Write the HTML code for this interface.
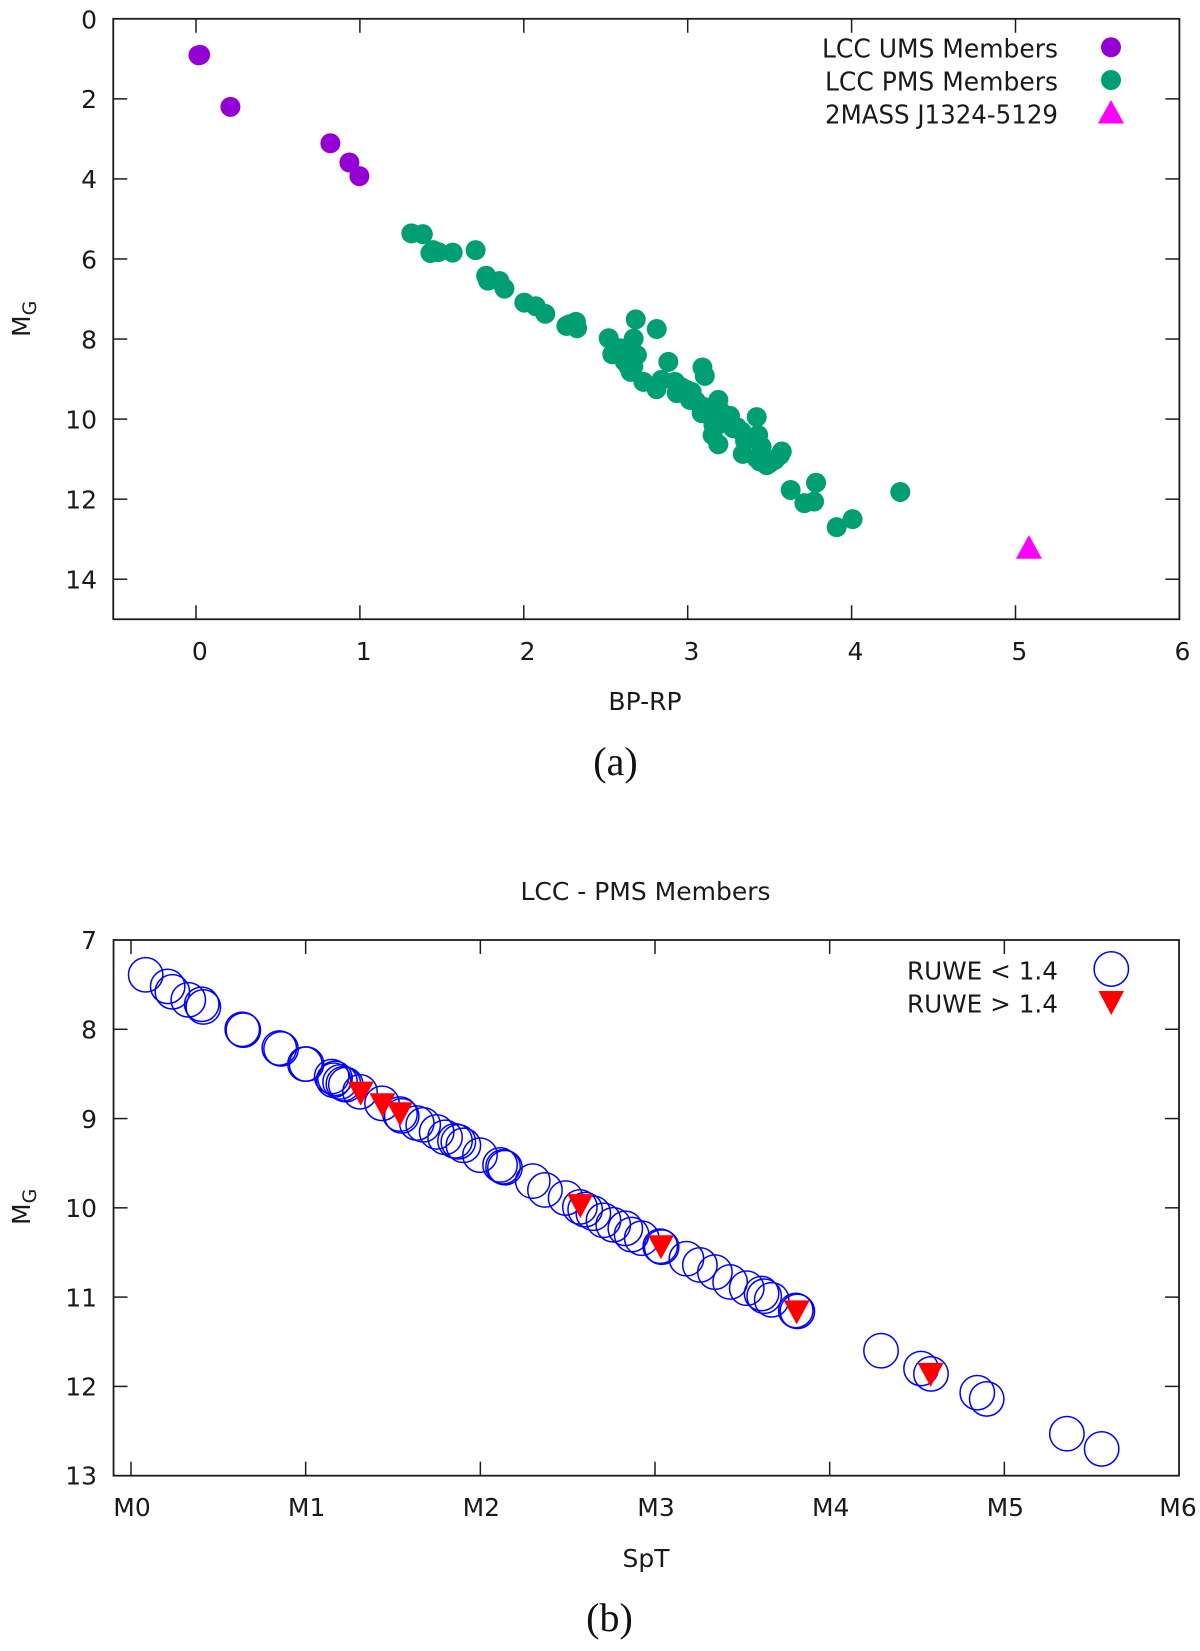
<!DOCTYPE html>
<html lang="en">
<head>
<meta charset="utf-8">
<title>LCC colour-magnitude diagrams</title>
<style>
html,body{margin:0;padding:0;background:#fff;}
svg{display:block;}
text{font-family:"DejaVu Sans","Liberation Sans",sans-serif;font-size:25px;fill:#1a1a1a;}
.cap{font-family:"Liberation Serif",serif;font-size:40px;fill:#111;}
.leg-a{font-size:26px;}
</style>
</head>
<body>
<svg id="figure" xmlns="http://www.w3.org/2000/svg" width="1200" height="1651" viewBox="0 0 1200 1651">
  <rect x="0" y="0" width="1200" height="1651" fill="#fff"/>
  <g id="chart-a"></g>
  <g id="chart-b"></g>

  <text transform="translate(30,337) rotate(-90)">M<tspan font-size="19" dy="6">G</tspan></text>
  <text x="645" y="710" text-anchor="middle">BP-RP</text>
  <text class="cap" x="615.5" y="775" text-anchor="middle">(a)</text>

  <text x="645.5" y="900" text-anchor="middle">LCC - PMS Members</text>
  <text transform="translate(30,1225) rotate(-90)">M<tspan font-size="19" dy="6">G</tspan></text>
  <text x="646" y="1567" text-anchor="middle">SpT</text>
  <text class="cap" x="609.5" y="1631" text-anchor="middle">(b)</text>

  <g>
    <text class="leg-a" x="1058" y="57.5" text-anchor="end" textLength="236" lengthAdjust="spacingAndGlyphs">LCC UMS Members</text>
    <circle cx="1111" cy="47.3" r="10" fill="#9400d3"/>
    <text class="leg-a" x="1058" y="90.5" text-anchor="end" textLength="233" lengthAdjust="spacingAndGlyphs">LCC PMS Members</text>
    <circle cx="1111" cy="80" r="10" fill="#009e73"/>
    <text class="leg-a" x="1058" y="123.5" text-anchor="end" textLength="233" lengthAdjust="spacingAndGlyphs">2MASS J1324-5129</text>
    <polygon points="1111,100 1124,123.5 1098,123.5" fill="#ff00ff"/>
  </g>
  <g>
    <text x="1058" y="979.5" text-anchor="end" textLength="151" lengthAdjust="spacingAndGlyphs">RUWE &lt; 1.4</text>
    <circle cx="1111.3" cy="969" r="17.2" fill="none" stroke="#0000ff" stroke-width="1.5"/>
    <text x="1058" y="1012.5" text-anchor="end" textLength="151" lengthAdjust="spacingAndGlyphs">RUWE &gt; 1.4</text>
    <polygon points="1098.5,991 1124,991 1111.3,1015" fill="#ff0000"/>
  </g>
</svg>
<script>
// Chart (a) tick labels
const aXTicks = [0, 1, 2, 3, 4, 5, 6];
const aYTicks = [0, 2, 4, 6, 8, 10, 12, 14];
// Chart (a) series
const umsColor = [0.015, 0.025, 0.21, 0.82, 0.936, 0.997];
const umsMag = [0.91, 0.90, 2.20, 3.11, 3.59, 3.93];
const pmsColor = [1.314, 1.384, 1.43, 1.447, 1.478, 1.566, 1.706, 1.77, 1.781, 1.851, 1.882, 2.003, 2.073, 2.131, 2.26, 2.28, 2.318, 2.325,
  2.683, 2.811, 2.67, 2.518, 2.54, 2.587, 2.658, 2.617, 2.668, 2.652, 2.73, 2.81, 2.84, 2.882, 2.922, 2.933, 2.994, 3.024, 3.014,
  3.09, 3.104, 3.187, 3.095, 3.085, 3.157, 3.258, 3.217, 3.157, 3.152, 3.187, 3.278, 3.329, 3.421, 3.43, 3.37, 3.451, 3.336, 3.421,
  3.441, 3.482, 3.533, 3.574, 3.563, 3.628, 3.783, 3.712, 3.771, 3.909, 4.006, 4.297,
  2.60, 2.64, 2.96, 3.05, 3.12, 3.20, 3.25, 3.15, 3.30, 3.35, 3.50, 2.69];
const pmsMag = [5.36, 5.38, 5.85, 5.78, 5.83, 5.84, 5.78, 6.42, 6.54, 6.55, 6.74, 7.09, 7.18, 7.37, 7.67, 7.63, 7.57, 7.73,
  7.51, 7.75, 7.99, 7.98, 8.38, 8.23, 8.52, 8.57, 8.69, 8.82, 9.07, 9.25, 9.02, 8.57, 9.07, 9.35, 9.27, 9.32, 9.52,
  8.71, 8.92, 9.52, 9.69, 9.85, 9.85, 9.92, 10.10, 10.15, 10.40, 10.63, 10.23, 10.31, 9.95, 10.40, 10.48, 10.69, 10.87, 10.98,
  11.06, 11.15, 11.02, 10.81, 10.90, 11.77, 11.59, 12.10, 12.06, 12.70, 12.50, 11.82,
  8.45, 8.70, 9.20, 9.55, 9.75, 9.80, 10.00, 10.00, 10.20, 10.55, 11.10, 8.40];
const targetColor = [5.082];
const targetMag = [13.22];

// Chart (b) tick labels
const bXLabels = ['M0', 'M1', 'M2', 'M3', 'M4', 'M5', 'M6'];
const bYTicks = [7, 8, 9, 10, 11, 12, 13];
// Chart (b) series
const lowSpt = [0.084, 0.21, 0.237, 0.328, 0.405, 0.414, 0.637, 0.643, 0.849, 0.859, 0.996, 1.005, 1.149, 1.168, 1.16, 1.197, 1.216, 1.23, 1.311, 1.437,
  1.54, 1.55, 1.636, 1.673, 1.75, 1.798, 1.855, 1.874, 1.903, 1.998, 2.113, 2.13, 2.141, 2.30, 2.37, 2.488, 2.57, 2.60, 2.647, 2.705, 2.761, 2.83, 2.866, 2.924,
  3.03, 3.038, 3.18, 3.257, 3.343, 3.43, 3.525, 3.61, 3.625, 3.668, 3.806, 3.815, 4.294, 4.523, 4.58, 4.845, 4.899, 5.358, 5.557];
const lowMag = [7.39, 7.52, 7.58, 7.67, 7.72, 7.75, 8.00, 8.01, 8.21, 8.22, 8.39, 8.39, 8.53, 8.55, 8.57, 8.59, 8.61, 8.62, 8.70, 8.83,
  8.95, 8.97, 9.05, 9.07, 9.15, 9.21, 9.25, 9.26, 9.30, 9.41, 9.52, 9.54, 9.55, 9.70, 9.80, 9.89, 9.99, 10.02, 10.06, 10.14, 10.19, 10.23, 10.30, 10.34,
  10.43, 10.44, 10.57, 10.64, 10.72, 10.83, 10.90, 10.96, 10.99, 11.03, 11.15, 11.16, 11.60, 11.80, 11.86, 12.07, 12.14, 12.53, 12.70];
const highSpt = [1.315, 1.44, 1.54, 2.572, 3.034, 3.811, 4.578];
const highMag = [8.71, 8.84, 8.94, 9.97, 10.43, 11.16, 11.86];

const NS = 'http://www.w3.org/2000/svg';

function make(parent, tag, attrs, text) {
  const node = document.createElementNS(NS, tag);
  for (const k in attrs) node.setAttribute(k, attrs[k]);
  if (text !== undefined) node.textContent = text;
  parent.appendChild(node);
  return node;
}

// Axis functions
const aX = v => 196 + 163.9 * v;
const aY = v => 18.8 + 40.03 * v;
const bX = v => 131 + 174.67 * v;
const bY = v => 940 + 89.28 * (v - 7);

const FRAME = '#1c1c1c';

function frame(parent, left, top, right, bottom) {
  const box = make(parent, 'rect', {x: left, y: top, width: right - left, height: bottom - top, fill: 'none', stroke: FRAME, 'stroke-width': 1.8});
  
  
}

function xTick(parent, px, top, bottom, label, labelY, dx) {
  const t1 = make(parent, 'line', {x1: px, x2: px, y1: bottom, y2: bottom - 14, stroke: FRAME, 'stroke-width': 1.5});
  
  
  const t2 = make(parent, 'line', {x1: px, x2: px, y1: top, y2: top + 14, stroke: FRAME, 'stroke-width': 1.5});
  
  
  const lab = make(parent, 'text', {x: px + dx, y: labelY, 'text-anchor': 'middle'}, label);
  
  
}

function yTick(parent, py, left, right, label) {
  const t1 = make(parent, 'line', {x1: left, x2: left + 14, y1: py, y2: py, stroke: FRAME, 'stroke-width': 1.5});
  
  
  const t2 = make(parent, 'line', {x1: right, x2: right - 14, y1: py, y2: py, stroke: FRAME, 'stroke-width': 1.5});
  
  
  const lab = make(parent, 'text', {x: 97, y: py + 9.3, 'text-anchor': 'end'}, label);
  
  
}

// Chart (a)
const chartA = document.getElementById('chart-a');
const aLeft = aX(-0.5) - 0.8, aRight = aX(6), aTop = aY(0), aBottom = aY(15);
frame(chartA, aLeft, aTop, aRight, aBottom);
aXTicks.forEach(v => {
  if (v < 6) xTick(chartA, aX(v), aTop, aBottom, String(v), 660, 3.8);
  else {
    const lab = make(chartA, 'text', {x: aX(v) + 3, y: 660, 'text-anchor': 'middle'}, String(v));
    
    
  }
});
aYTicks.forEach(v => {
  if (v > 0) yTick(chartA, aY(v), aLeft, aRight, String(v));
  else {
    const lab = make(chartA, 'text', {x: 97, y: aY(v) + 9.5, 'text-anchor': 'end'}, String(v));
    
    
  }
});
umsColor.forEach((c, i) => {
  const dot = make(chartA, 'circle', {cx: aX(c), cy: aY(umsMag[i]), r: 10, fill: '#9400d3'});
  
  
});
pmsColor.forEach((c, i) => {
  const dot = make(chartA, 'circle', {cx: aX(c), cy: aY(pmsMag[i]), r: 10, fill: '#009e73'});
  
  
});
targetColor.forEach((c, i) => {
  const px = aX(c), py = aY(targetMag[i]);
  const tri = make(chartA, 'polygon', {points: `${px},${py - 13} ${px + 13},${py + 10.7} ${px - 13},${py + 10.7}`, fill: '#ff00ff'});
  
  
});

// Chart (b)
const chartB = document.getElementById('chart-b');
const bLeft = bX(-0.1), bRight = bX(6), bTop = bY(7), bBottom = bY(13);
frame(chartB, bLeft, bTop, bRight, bBottom);
bXLabels.forEach((name, i) => {
  if (i < 6) xTick(chartB, bX(i), bTop, bBottom, name, 1516, 1);
  else {
    const lab = make(chartB, 'text', {x: bX(i) - 1, y: 1516, 'text-anchor': 'middle'}, name);
    
    
  }
});
bYTicks.forEach(v => {
  if (v > 7 && v < 13) yTick(chartB, bY(v), bLeft, bRight, String(v));
  else {
    const lab = make(chartB, 'text', {x: 97, y: bY(v) + 9, 'text-anchor': 'end'}, String(v));
    
    
  }
});
lowSpt.forEach((s, i) => {
  const ring = make(chartB, 'circle', {cx: bX(s), cy: bY(lowMag[i]), r: 17.2, fill: 'none', stroke: '#0000ff', 'stroke-width': 1.5});
  
  
});
highSpt.forEach((s, i) => {
  const px = bX(s), py = bY(highMag[i]);
  const tri = make(chartB, 'polygon', {points: `${px - 13},${py - 11} ${px + 13},${py - 11} ${px},${py + 13}`, fill: '#ff0000'});
  
  
});
</script>
</body>
</html>
